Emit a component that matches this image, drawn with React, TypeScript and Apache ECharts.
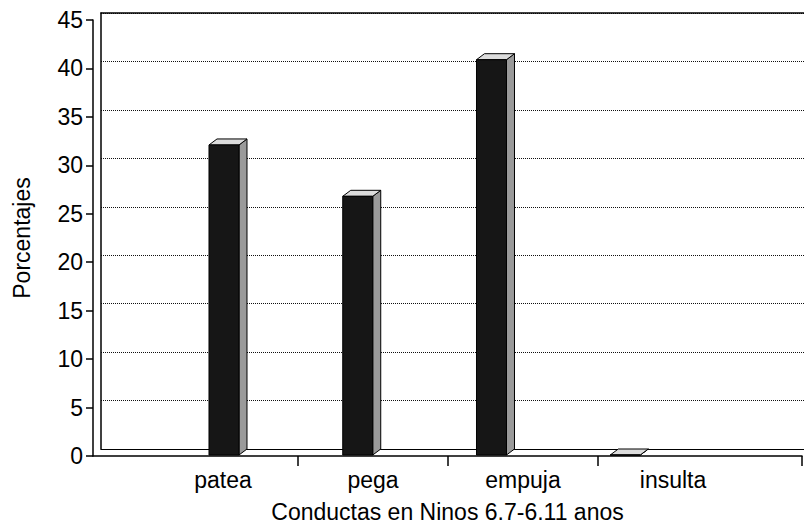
import React, { useEffect, useRef } from "react";
import * as echarts from "echarts";

const categories = ["patea", "pega", "empuja", "insulta"];
const porcentajes = [32, 26.7, 40.8, 0];
const xTitle = "Conductas en Ninos 6.7-6.11 anos";
const yTitle = "Porcentajes";

export default function App() {
  const ref = useRef<HTMLDivElement>(null);
  useEffect(() => {
    const chart = echarts.init(ref.current!, null, { renderer: "svg" });
    const font = "'Liberation Sans', Arial, sans-serif";
    const FS = 23;
    const W = 15;
    const DX = 8;
    const DY = 6;
    chart.setOption({
      animation: false,
      backgroundColor: "#ffffff",
      grid: [
        { left: 93, right: 2, top: 20, bottom: 76 },
        { left: 101, right: 0, top: 13, bottom: 83 },
      ],
      xAxis: [
        {
          gridIndex: 0,
          type: "value",
          min: -0.8667,
          max: 3.86,
          axisLine: { show: true, onZero: false, lineStyle: { color: "#000", width: 1.5 } },
          splitLine: { show: false },
          axisTick: {
            show: true,
            customValues: [0.5, 1.5, 2.5, 3.86],
            length: 10,
            lineStyle: { color: "#000", width: 1.5 },
          },
          axisLabel: {
            customValues: [0, 1, 2, 3],
            formatter: (v: number) => categories[Math.round(v)] ?? "",
            fontSize: FS,
            color: "#000",
            margin: 12,
            fontFamily: font,
          },
          name: xTitle,
          nameLocation: "middle",
          nameGap: 44,
          nameTextStyle: { fontSize: FS, color: "#000", fontFamily: font },
        },
        {
          gridIndex: 1,
          type: "value",
          min: -0.9196,
          max: 4.3365,
          axisLine: { show: true, onZero: false, lineStyle: { color: "#000", width: 1 } },
          axisTick: { show: false },
          axisLabel: { show: false },
          splitLine: { show: false },
        },
        {
          gridIndex: 1,
          type: "value",
          position: "top",
          min: 0,
          max: 1,
          axisLine: { show: true, onZero: false, lineStyle: { color: "#000", width: 1.5 } },
          axisTick: { show: false },
          axisLabel: { show: false },
          splitLine: { show: false },
        },
      ],
      yAxis: [
        {
          gridIndex: 0,
          type: "value",
          min: 0,
          max: 45,
          interval: 5,
          axisLine: { show: true, onZero: false, lineStyle: { color: "#000", width: 1.5 } },
          axisTick: { show: true, inside: false, length: 7, lineStyle: { color: "#000", width: 1.5 } },
          axisLabel: { fontSize: FS, color: "#000", margin: 10, fontFamily: font },
          splitLine: { show: false },
          name: yTitle,
          nameLocation: "middle",
          nameGap: 60,
          nameRotate: 90,
          nameTextStyle: { fontSize: FS, color: "#000", fontFamily: font },
        },
        {
          gridIndex: 1,
          type: "value",
          min: 0,
          max: 45,
          interval: 5,
          axisLine: { show: true, onZero: false, lineStyle: { color: "#000", width: 1.5 } },
          axisTick: { show: false },
          axisLabel: { show: false },
          splitLine: { show: true, lineStyle: { type: "dotted", color: "#111", width: 1 } },
        },
      ],
      series: [
        {
          type: "custom",
          xAxisIndex: 1,
          yAxisIndex: 1,
          data: porcentajes.map((v, i) => [i, v]),
          renderItem: (params: any, api: any) => {
            const i = api.value(0);
            const v = api.value(1);
            const back = api.coord([i, v]);
            const base = api.coord([i, 0]);
            const c = back[0];
            const top = back[1] + DY;
            const bottom = base[1] + DY;
            const l = c - W;
            const r = c + W;
            return {
              type: "group",
              children: [
                {
                  type: "polygon",
                  shape: { points: [[r, top], [r + DX, top - DY], [r + DX, bottom - DY], [r, bottom]] },
                  style: { fill: "#9a9a9a", stroke: "#000", lineWidth: 1 },
                },
                {
                  type: "polygon",
                  shape: { points: [[l, top], [r, top], [r + DX, top - DY], [l + DX, top - DY]] },
                  style: { fill: "#dcdcdc", stroke: "#000", lineWidth: 1 },
                },
                {
                  type: "rect",
                  shape: { x: l, y: top, width: 2 * W, height: bottom - top },
                  style: { fill: "#161616", stroke: "#000", lineWidth: 1 },
                },
              ],
            };
          },
        },
      ],
    });
    return () => chart.dispose();
  }, []);
  return (
    <div
      ref={ref}
      style={{ position: "fixed", left: 0, top: 0, width: 804, height: 532 }}
    />
  );
}
